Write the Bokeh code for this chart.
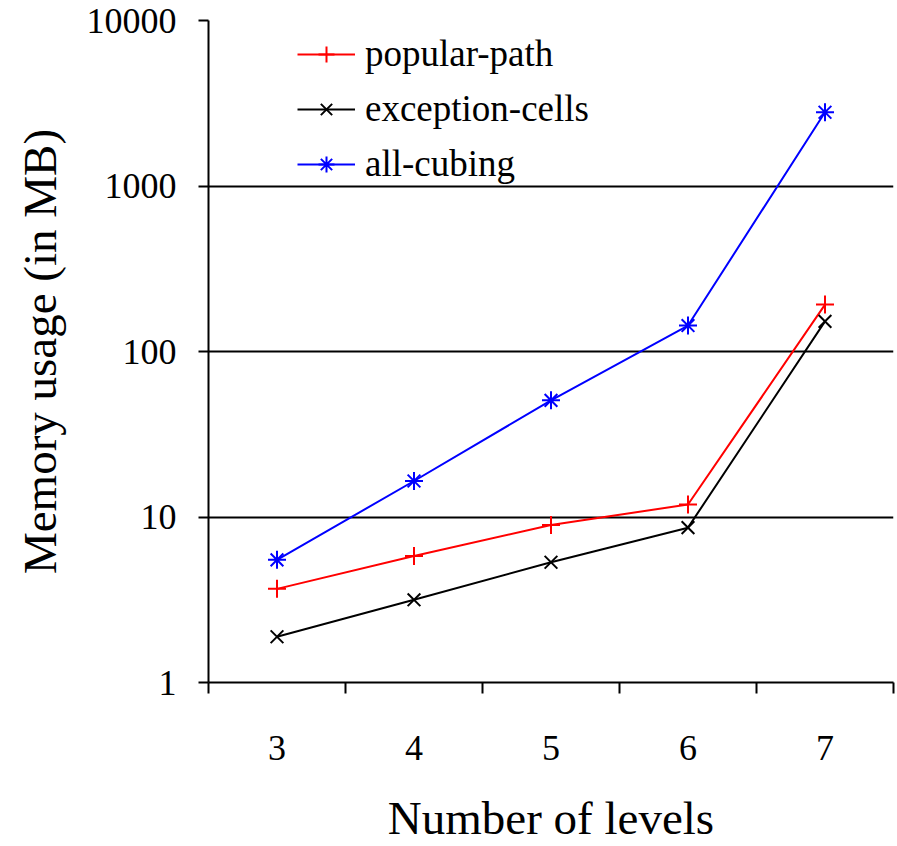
from bokeh.plotting import figure
from bokeh.models import (FixedTicker, Legend, LegendItem, Range1d,
                          CustomJSTickFormatter)
from bokeh.embed import file_html
from bokeh.resources import INLINE

# Memory usage (MB) per number of levels
levels = [3, 4, 5, 6, 7]
popular_path = [3.68, 5.82, 8.95, 11.9, 192]
exception_cells = [1.89, 3.16, 5.33, 8.62, 152]
all_cubing = [5.51, 16.5, 50.7, 143.5, 2790]
y_ticks = [1, 10, 100, 1000, 10000]

FONT = "'Liberation Serif', 'Times New Roman', serif"

p = figure(width=897, height=846, y_axis_type="log",
           x_range=Range1d(levels[0] - 0.5, levels[-1] + 0.5),
           y_range=Range1d(y_ticks[0], y_ticks[-1]),
           output_backend="svg", toolbar_location=None,
           min_border_left=208, min_border_right=4,
           min_border_top=20, min_border_bottom=162)
p.outline_line_color = None
p.background_fill_color = "white"
p.border_fill_color = "white"

# horizontal gridlines at each decade
p.xgrid.visible = False
p.ygrid.grid_line_color = "black"
p.ygrid.grid_line_width = 2
p.ygrid.ticker = FixedTicker(ticks=y_ticks)

# x axis: labels at the category centres, tick marks on the boundaries
bounds = [v - 0.5 for v in levels] + [levels[-1] + 0.5]
p.xaxis.ticker = FixedTicker(ticks=levels, minor_ticks=bounds)
p.xaxis.major_tick_out = 0
p.xaxis.major_tick_in = 0
p.xaxis.minor_tick_out = 11
p.xaxis.minor_tick_in = 0
p.xaxis.minor_tick_line_color = "black"
p.xaxis.minor_tick_line_width = 2
p.xaxis.major_label_standoff = 42
p.xaxis.axis_label = "Number of levels"
p.xaxis.axis_label_standoff = 29

# y axis: decades
p.yaxis.ticker = FixedTicker(ticks=y_ticks, minor_ticks=[])
p.yaxis.formatter = CustomJSTickFormatter(code="return tick.toFixed(0);")
p.yaxis.major_tick_out = 10
p.yaxis.major_tick_in = 0
p.yaxis.minor_tick_out = 0
p.yaxis.minor_tick_in = 0
p.yaxis.major_label_standoff = 22
p.yaxis.axis_label = "Memory usage (in MB)"
p.yaxis.axis_label_standoff = 18

for ax in (p.xaxis, p.yaxis):
    ax.axis_line_color = "black"
    ax.axis_line_width = 2
    ax.major_tick_line_color = "black"
    ax.major_tick_line_width = 2
    ax.major_label_text_font = FONT
    ax.major_label_text_font_size = "36px"
    ax.major_label_text_color = "black"
    ax.axis_label_text_font = FONT
    ax.axis_label_text_font_size = "47px"
    ax.axis_label_text_font_style = "normal"
    ax.axis_label_text_color = "black"

series = [
    ("popular-path", popular_path, "red", "cross"),
    ("exception-cells", exception_cells, "black", "x"),
    ("all-cubing", all_cubing, "blue", "asterisk"),
]

items = []
for name, vals, color, marker in series:
    ln = p.line(levels, vals, line_color=color, line_width=2)
    mk = p.scatter(levels, vals, marker=marker, size=18,
                   line_color=color, line_width=2, fill_color=None)
    items.append(LegendItem(label=name, renderers=[ln, mk]))

legend = Legend(items=items, location=(89, 497), margin=0, padding=0,
                glyph_width=58, glyph_height=40, label_height=40,
                spacing=12, label_standoff=10,
                label_text_font=FONT, label_text_font_size="37px",
                label_text_color="black",
                border_line_color=None, background_fill_alpha=0)
p.add_layout(legend)

open("out.html", "w").write(file_html(p, INLINE))
